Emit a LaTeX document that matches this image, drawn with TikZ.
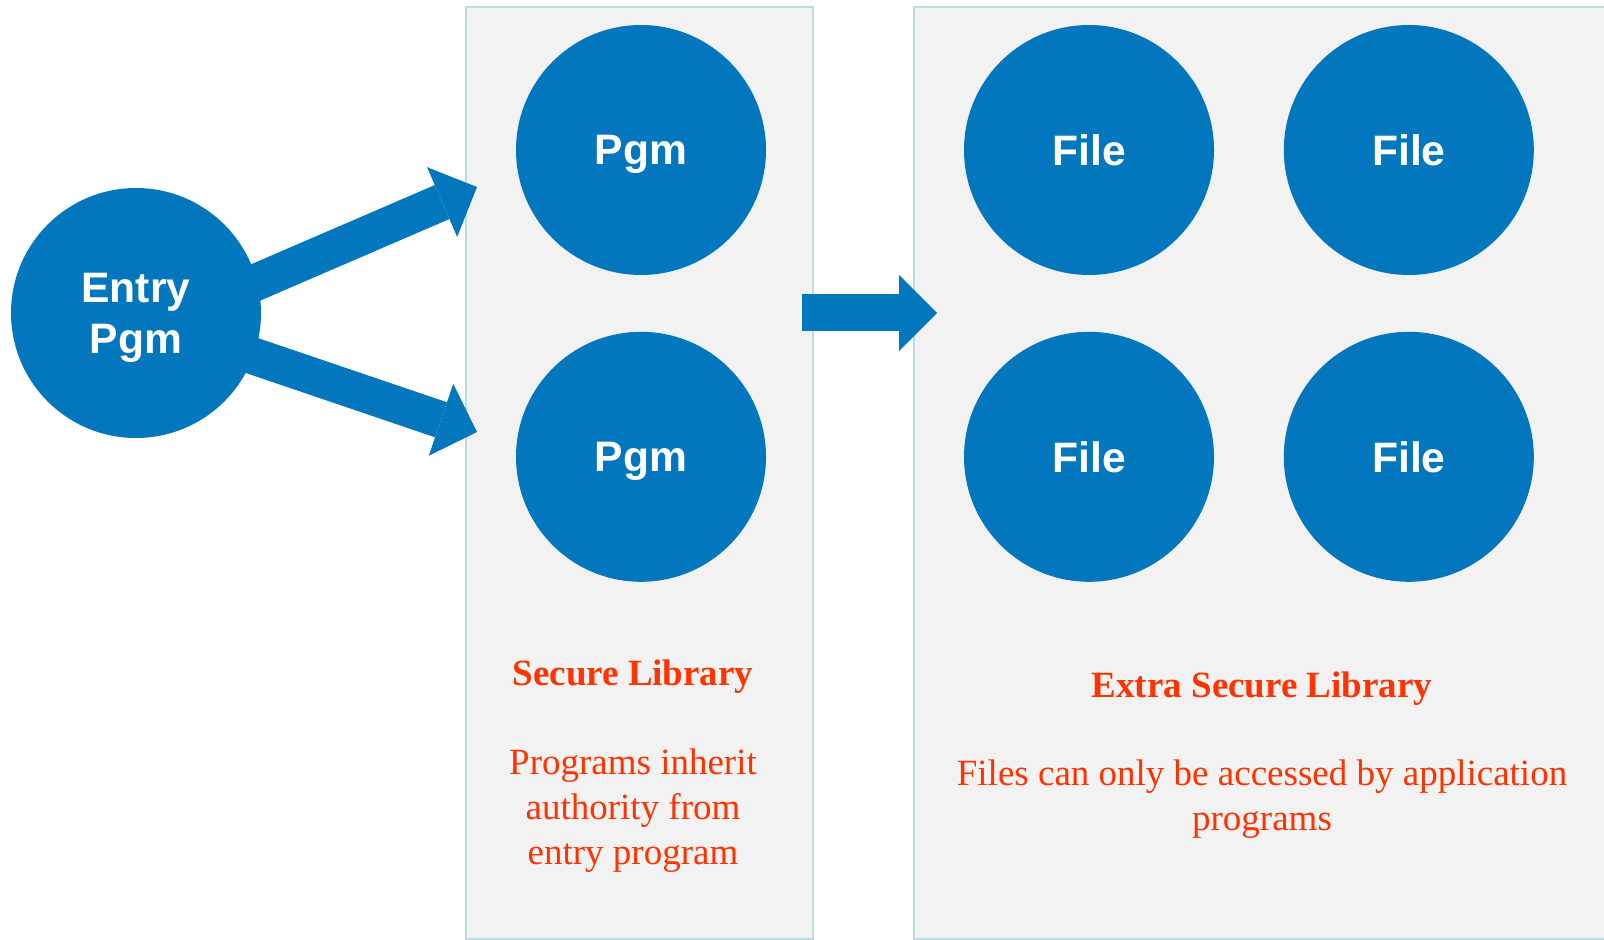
\documentclass[tikz,border=0pt]{standalone}
\usepackage{fontspec}
\setmainfont{Liberation Serif}
\setsansfont{Liberation Sans}
\usetikzlibrary{arrows.meta,positioning}
\definecolor{pgmblue}{HTML}{0277BE}
\definecolor{libred}{HTML}{FF3300}
\definecolor{libgray}{HTML}{F2F2F2}
\definecolor{libedge}{HTML}{B8DDE2}

\begin{document}
\begin{tikzpicture}[
    x=0.5pt,y=-0.5pt,
    node distance=28pt and 34.5pt,
    obj/.style={circle,fill=pgmblue,minimum size=125pt,inner sep=0pt,text depth=0pt,text=white,align=center,font=\sffamily\bfseries\fontsize{21.3}{25.5}\selectfont},
    lib/.style={fill=libgray,draw=libedge,line width=1pt},
    ttl/.style={text=libred,anchor=base,font=\bfseries\fontsize{18.5}{22.5}\selectfont},
    txt/.style={text=libred,anchor=base,align=center,font=\fontsize{18.5}{22.5}\selectfont},
    blk/.style={-{Triangle[length=19pt,width=38pt,line width=0pt]},line width=18.5pt,pgmblue}
    ]
    \useasboundingbox (0,0) rectangle (1604,940);
    % library panels
    \filldraw[lib] (466,7) rectangle (813,939);
    \filldraw[lib] (914,7) rectangle (1612,939);
    % programs and files
    \node[obj] (entry) at (136,313) {Entry\\Pgm};
    \node[obj] (pgma) at (641,150) {Pgm};
    \node[obj] (pgmb) [below=of pgma] {Pgm};
    \node[obj] (filea) at (1089,150) {File};
    \node[obj] (fileb) [right=of filea] {File};
    \node[obj] (filec) [below=of filea] {File};
    \node[obj] (filed) [below=of fileb] {File};
    % arrows
    \coordinate (tipa) at (477,187);
    \coordinate (tipb) at (477,432);
    \coordinate (tailc) at (802,313);
    \coordinate (tipc) at (937,313);
    \draw[blk] ([shift={(79,-13)}]entry.center) -- (tipa);
    \draw[blk] ([shift={(79,30)}]entry.center) -- (tipb);
    \draw[blk] (tailc) -- (tipc);
    % labels (base = last line)
    \node[ttl] (sectitle) at (633,685) {Secure Library};
    \node[txt] (secbody) at (633,864) {Programs inherit\\authority from\\entry program};
    \node[ttl] (extitle) at (1262,697) {Extra Secure Library};
    \node[txt] (exbody) at (1262,830) {Files can only be accessed by application\\programs};
\end{tikzpicture}
\end{document}
